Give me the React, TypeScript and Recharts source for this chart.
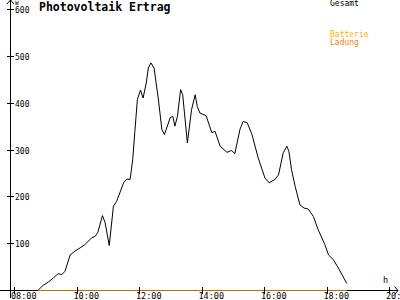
import React from "react";
import { LineChart, Line, XAxis, YAxis, ReferenceLine } from "recharts";

// ---- data (time in minutes since midnight, power in W) ----
const TIMES = [
  524, 534, 544, 554, 563, 570, 576, 586, 595, 605, 614, 627, 634, 639, 648, 653, 661,
  669, 675, 689, 695, 701, 706, 710, 715, 721, 726, 732, 736, 741, 747, 755, 762, 767,
  778, 783, 787, 792, 798, 802, 811, 819, 826, 830, 835, 847, 858, 864, 874, 887, 896,
  902, 912, 918, 926, 935, 947, 960, 968, 979, 986, 995, 1002, 1006, 1011, 1018, 1027,
  1035, 1043, 1053, 1062, 1075, 1082, 1091, 1101, 1117,
];
const GESAMT = [
  0, 11, 18, 27, 36, 34, 41, 76, 84, 91, 98, 112, 116, 124, 160, 145, 96,
  180, 190, 231, 238, 237, 279, 337, 408, 428, 411, 443, 475, 486, 475, 411, 344, 333,
  369, 372, 351, 372, 429, 418, 315, 386, 418, 393, 379, 373, 337, 340, 308, 295, 299,
  292, 344, 361, 358, 333, 283, 240, 230, 237, 247, 294, 308, 297, 258, 222, 183,
  176, 174, 158, 130, 98, 76, 66, 48, 15,
];
const BATTERIE = TIMES.map(() => 0);
const LADUNG = TIMES.map(() => 0);

const X_TICKS = [480, 600, 720, 840, 960, 1080, 1200];
const X_TICK_LABELS = ["08:00", "10:00", "12:00", "14:00", "16:00", "18:00", "20:00"];
const Y_TICKS = [100, 200, 300, 400, 500, 600];
const X_DOMAIN: [number, number] = [471.4, 1215.4];
const Y_DOMAIN: [number, number] = [0, 600];

const TITLE = "Photovoltaik Ertrag";
const SERIES_NAMES = ["Gesamt", "Batterie", "Ladung"];
const SERIES_COLORS = ["#000000", "#ffb000", "#ff8000"];
const X_UNIT = "h";
const Y_UNIT = "W";

const data = TIMES.map((t, i) => ({
  t,
  gesamt: GESAMT[i],
  batterie: BATTERIE[i],
  ladung: LADUNG[i],
}));

// px -> data unit helpers (plot: x 10.5..398, y 9.5..290.5)
const MIN_PER_PX = (X_DOMAIN[1] - X_DOMAIN[0]) / 387.5;
const W_PER_PX = (Y_DOMAIN[1] - Y_DOMAIN[0]) / 281;

const FONT = "'DejaVu Sans Mono', monospace";

const renderXTick = (props: any) => {
  const { x, y, payload } = props;
  const idx = X_TICKS.indexOf(payload.value);
  return (
    <g key={`xt-${payload.value}`}>
      <line x1={x} x2={x} y1={y - 4} y2={y + 3} stroke="#000" shapeRendering="crispEdges" />
      <text x={x - 4} y={y + 8.5} fontSize={8.5} fontFamily={FONT} fill="#000">
        {X_TICK_LABELS[idx]}
      </text>
    </g>
  );
};

const renderYTick = (props: any) => {
  const { x, y, payload } = props;
  return (
    <g key={`yt-${payload.value}`}>
      <line x1={x - 3.5} x2={x + 3.5} y1={y} y2={y} stroke="#000" shapeRendering="crispEdges" />
      <text x={x + 4.5} y={y + 3.5} fontSize={8} fontFamily={FONT} fill="#000">
        {payload.value}
      </text>
    </g>
  );
};

export default function App() {
  const xL = X_DOMAIN[0];
  const xR = X_DOMAIN[1];
  const yTop = Y_DOMAIN[1] + 9.5 * W_PER_PX;
  const yBot = -7.5 * W_PER_PX;
  return (
    <div style={{ position: "relative", width: 400, height: 300, background: "#fff" }}>
      <style>{`body{margin:0}`}</style>
      <LineChart
        width={400}
        height={300}
        data={data}
        margin={{ top: 9.5, right: 2, bottom: 8.5, left: 9.5 }}
      >
        <XAxis
          type="number"
          dataKey="t"
          domain={X_DOMAIN}
          ticks={X_TICKS}
          allowDataOverflow
          axisLine={false}
          tickLine={false}
          tickSize={0}
          tickMargin={0}
          height={1}
          tick={renderXTick}
          interval={0}
        />
        <YAxis
          type="number"
          domain={Y_DOMAIN}
          ticks={Y_TICKS}
          allowDataOverflow
          axisLine={false}
          tickLine={false}
          tickSize={0}
          tickMargin={0}
          width={1}
          tick={renderYTick}
          interval={0}
        />
        {/* axes */}
        <ReferenceLine
          segment={[{ x: xL - 10.5 * MIN_PER_PX, y: 0 }, { x: xR, y: 0 }]}
          stroke="#000"
          ifOverflow="visible"
          shapeRendering="crispEdges"
        />
        <ReferenceLine
          segment={[{ x: xL, y: yTop }, { x: xL, y: yBot }]}
          stroke="#000"
          ifOverflow="visible"
          shapeRendering="crispEdges"
        />
        {/* arrows */}
        <ReferenceLine
          segment={[{ x: xL - 3.5 * MIN_PER_PX, y: yTop - 4 * W_PER_PX }, { x: xL, y: yTop }]}
          stroke="#000"
          ifOverflow="visible"
        />
        <ReferenceLine
          segment={[{ x: xL + 3.5 * MIN_PER_PX, y: yTop - 4 * W_PER_PX }, { x: xL, y: yTop }]}
          stroke="#000"
          ifOverflow="visible"
        />
        <ReferenceLine
          segment={[{ x: xR - 3.5 * MIN_PER_PX, y: 4 * W_PER_PX }, { x: xR, y: 0 }]}
          stroke="#000"
          ifOverflow="visible"
        />
        <ReferenceLine
          segment={[{ x: xR - 3.5 * MIN_PER_PX, y: -4 * W_PER_PX }, { x: xR, y: 0 }]}
          stroke="#000"
          ifOverflow="visible"
        />
        <Line
          dataKey="gesamt"
          stroke={SERIES_COLORS[0]}
          strokeWidth={1}
          dot={false}
          type="linear"
          isAnimationActive={false}
        />
        <Line
          dataKey="batterie"
          stroke={SERIES_COLORS[1]}
          strokeWidth={1.2}
          dot={false}
          type="linear"
          isAnimationActive={false}
        />
        <Line
          dataKey="ladung"
          stroke={SERIES_COLORS[2]}
          strokeWidth={1.2}
          dot={false}
          type="linear"
          isAnimationActive={false}
        />
      </LineChart>
      <div
        style={{
          position: "absolute",
          left: 39,
          top: 0,
          fontFamily: FONT,
          fontWeight: "bold",
          fontSize: 11.5,
          lineHeight: "14px",
          color: "#000",
        }}
      >
        {TITLE}
      </div>
      <div
        style={{
          position: "absolute",
          left: 15,
          top: 0,
          fontFamily: FONT,
          fontSize: 6,
          lineHeight: "6px",
        }}
      >
        {Y_UNIT}
      </div>
      <div
        style={{
          position: "absolute",
          left: 383,
          top: 275,
          fontFamily: FONT,
          fontSize: 8.5,
          lineHeight: "10px",
        }}
      >
        {X_UNIT}
      </div>
      <div style={{ position: "absolute", left: 330, top: -1, fontFamily: FONT, fontSize: 8, lineHeight: "10px", color: SERIES_COLORS[0] }}>
        {SERIES_NAMES[0]}
      </div>
      <div style={{ position: "absolute", left: 330, top: 31, fontFamily: FONT, fontSize: 8, lineHeight: "8px" }}>
        <div style={{ color: SERIES_COLORS[1] }}>{SERIES_NAMES[1]}</div>
        <div style={{ color: SERIES_COLORS[2] }}>{SERIES_NAMES[2]}</div>
      </div>
    </div>
  );
}
